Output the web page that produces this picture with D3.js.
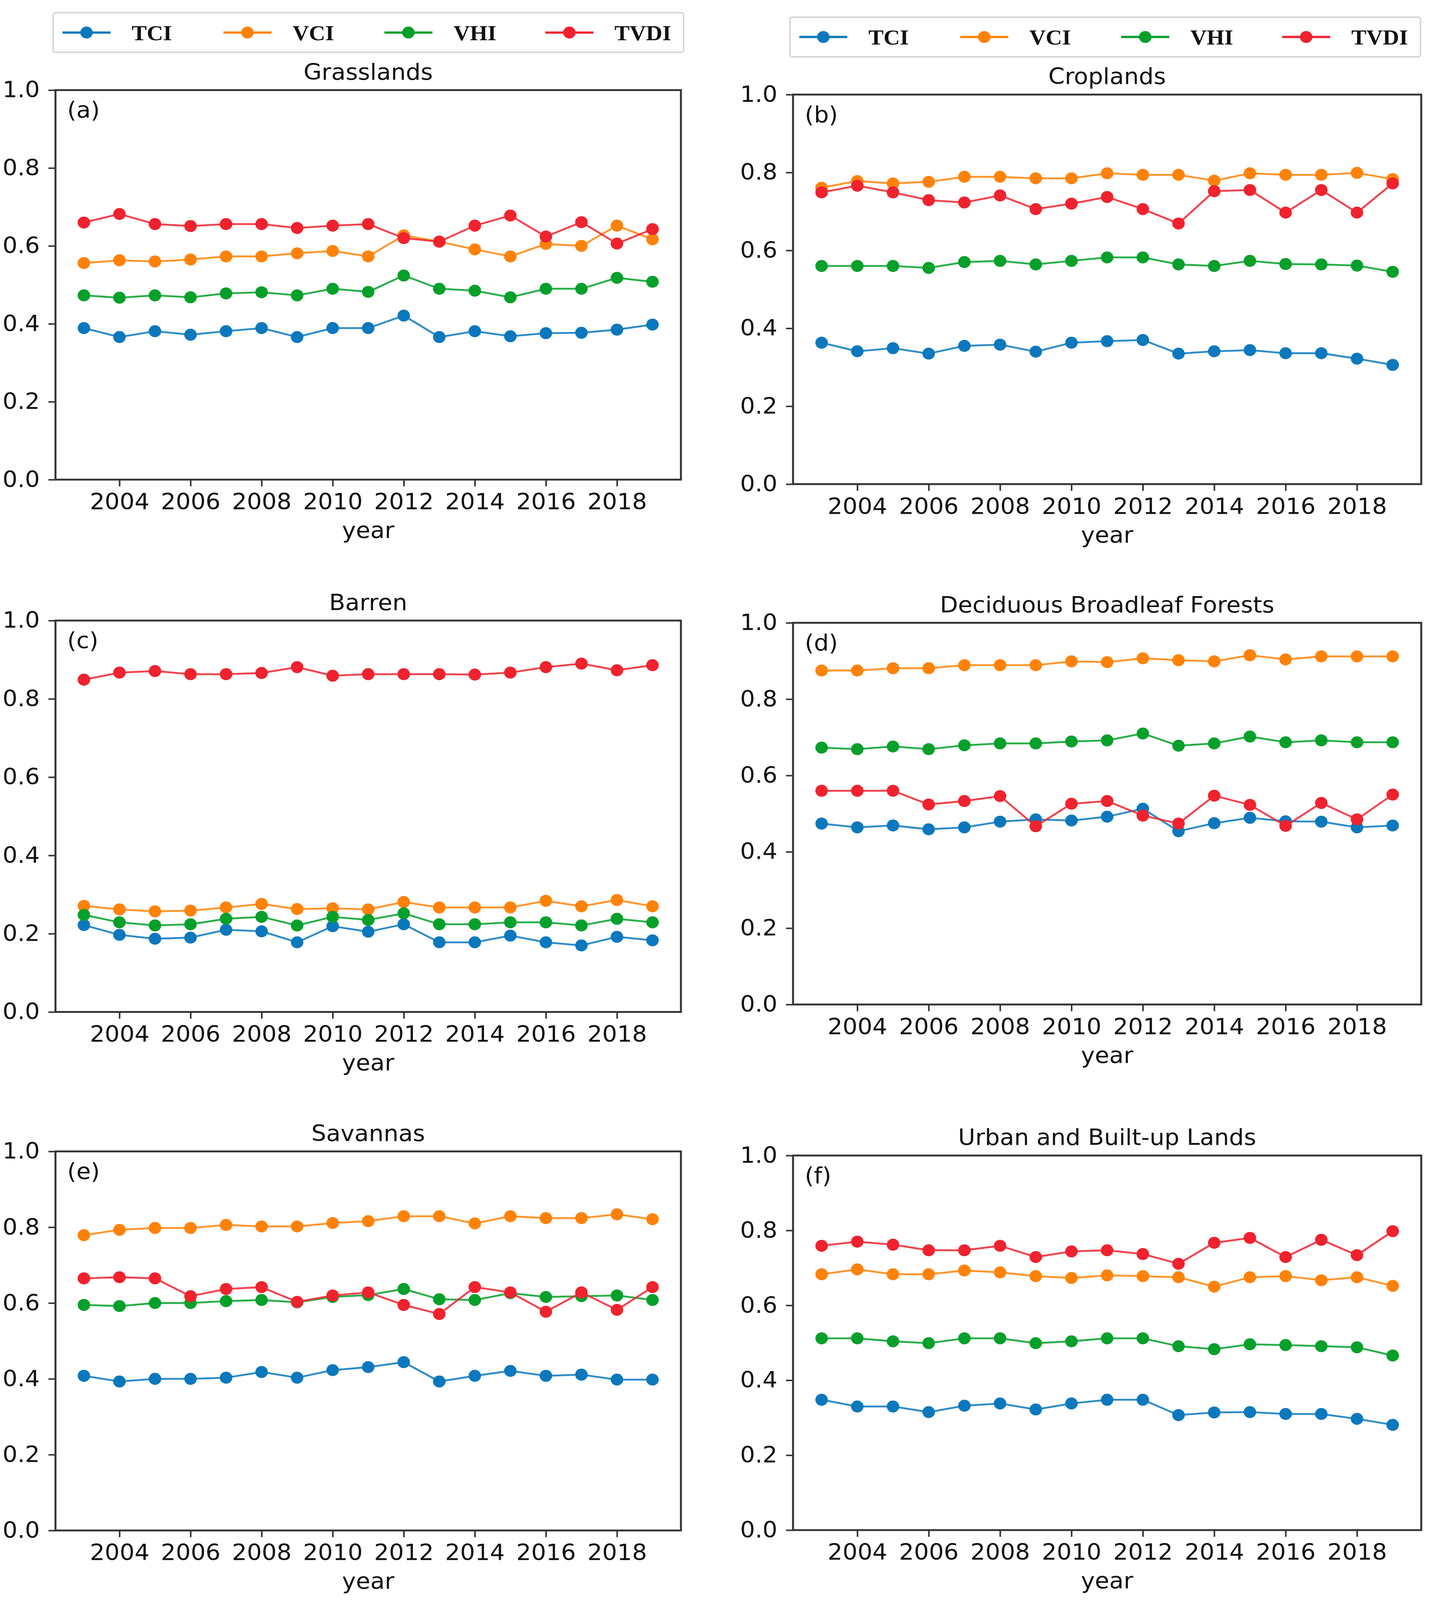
<!DOCTYPE html>
<html>
<head>
<meta charset="utf-8">
<script src="https://cdn.jsdelivr.net/npm/d3@7"></script>
<style>
  html, body { margin: 0; padding: 0; background: #fff; overflow: hidden; }
  #chart { display: block; width: 100vw; height: 100vh; }
  text { font-family: "DejaVu Sans", sans-serif; }
</style>
</head>
<body>
<svg id="chart" viewBox="0 0 3663 4280" preserveAspectRatio="none"></svg>
<script>
const years = [2003, 2004, 2005, 2006, 2007, 2008, 2009, 2010, 2011, 2012, 2013, 2014, 2015, 2016, 2017, 2018, 2019];
const xTicks = [2004, 2006, 2008, 2010, 2012, 2014, 2016, 2018];
const yTicks = [0, 0.2, 0.4, 0.6, 0.8, 1.0];
const seriesNames = ['TCI', 'VCI', 'VHI', 'TVDI'];
const seriesColors = ['#0b78bd', '#ff8208', '#05a02a', '#f0222e'];

// (a) Grasslands
const grassTCI  = [0.389, 0.366, 0.381, 0.372, 0.381, 0.389, 0.366, 0.389, 0.389, 0.421, 0.366, 0.381, 0.368, 0.376, 0.377, 0.385, 0.398];
const grassVCI  = [0.556, 0.563, 0.560, 0.565, 0.573, 0.573, 0.581, 0.587, 0.573, 0.627, 0.611, 0.591, 0.573, 0.605, 0.600, 0.652, 0.617];
const grassVHI  = [0.473, 0.467, 0.473, 0.468, 0.478, 0.481, 0.473, 0.490, 0.482, 0.524, 0.490, 0.485, 0.468, 0.490, 0.490, 0.518, 0.508];
const grassTVDI = [0.660, 0.682, 0.656, 0.651, 0.656, 0.656, 0.646, 0.652, 0.656, 0.620, 0.611, 0.652, 0.678, 0.624, 0.661, 0.606, 0.643];

// (b) Croplands
const cropTCI  = [0.363, 0.341, 0.349, 0.335, 0.355, 0.358, 0.340, 0.363, 0.367, 0.370, 0.335, 0.341, 0.344, 0.336, 0.336, 0.322, 0.306];
const cropVCI  = [0.761, 0.778, 0.772, 0.776, 0.789, 0.789, 0.785, 0.785, 0.798, 0.794, 0.794, 0.779, 0.798, 0.794, 0.794, 0.799, 0.783];
const cropVHI  = [0.560, 0.560, 0.560, 0.555, 0.570, 0.573, 0.564, 0.573, 0.582, 0.582, 0.564, 0.560, 0.573, 0.565, 0.564, 0.561, 0.545];
const cropTVDI = [0.749, 0.766, 0.749, 0.729, 0.723, 0.741, 0.706, 0.720, 0.737, 0.706, 0.669, 0.752, 0.755, 0.697, 0.755, 0.697, 0.772];

// (c) Barren
const barrenTCI  = [0.222, 0.197, 0.187, 0.190, 0.210, 0.206, 0.178, 0.219, 0.205, 0.224, 0.178, 0.178, 0.195, 0.178, 0.170, 0.192, 0.183];
const barrenVCI  = [0.271, 0.262, 0.257, 0.259, 0.267, 0.276, 0.263, 0.265, 0.262, 0.281, 0.267, 0.267, 0.267, 0.284, 0.270, 0.286, 0.270];
const barrenVHI  = [0.248, 0.229, 0.221, 0.224, 0.238, 0.243, 0.221, 0.243, 0.235, 0.252, 0.224, 0.224, 0.229, 0.229, 0.221, 0.238, 0.229];
const barrenTVDI = [0.849, 0.867, 0.871, 0.863, 0.863, 0.866, 0.881, 0.859, 0.863, 0.863, 0.863, 0.862, 0.867, 0.881, 0.890, 0.873, 0.886];

// (d) Deciduous Broadleaf Forests
const dbfTCI  = [0.474, 0.464, 0.469, 0.459, 0.464, 0.479, 0.485, 0.482, 0.492, 0.513, 0.454, 0.475, 0.489, 0.480, 0.479, 0.464, 0.469];
const dbfVCI  = [0.875, 0.875, 0.881, 0.881, 0.889, 0.889, 0.889, 0.899, 0.897, 0.907, 0.902, 0.899, 0.915, 0.904, 0.912, 0.912, 0.912];
const dbfVHI  = [0.673, 0.669, 0.676, 0.669, 0.679, 0.684, 0.684, 0.689, 0.692, 0.710, 0.678, 0.684, 0.702, 0.687, 0.692, 0.687, 0.687];
const dbfTVDI = [0.560, 0.560, 0.560, 0.524, 0.533, 0.546, 0.467, 0.526, 0.533, 0.495, 0.474, 0.547, 0.523, 0.468, 0.528, 0.485, 0.550];

// (e) Savannas
const savTCI  = [0.408, 0.393, 0.400, 0.400, 0.403, 0.418, 0.403, 0.423, 0.431, 0.444, 0.393, 0.408, 0.421, 0.408, 0.411, 0.398, 0.398];
const savVCI  = [0.779, 0.793, 0.798, 0.798, 0.806, 0.802, 0.802, 0.811, 0.816, 0.829, 0.829, 0.810, 0.829, 0.824, 0.824, 0.834, 0.821];
const savVHI  = [0.595, 0.592, 0.600, 0.600, 0.605, 0.608, 0.602, 0.616, 0.621, 0.637, 0.610, 0.608, 0.626, 0.616, 0.618, 0.620, 0.608];
const savTVDI = [0.665, 0.668, 0.665, 0.618, 0.637, 0.642, 0.603, 0.620, 0.628, 0.595, 0.571, 0.642, 0.628, 0.577, 0.628, 0.582, 0.642];

// (f) Urban and Built-up Lands
const urbanTCI  = [0.348, 0.330, 0.330, 0.315, 0.332, 0.338, 0.322, 0.338, 0.348, 0.348, 0.307, 0.314, 0.315, 0.310, 0.310, 0.297, 0.281];
const urbanVCI  = [0.683, 0.696, 0.683, 0.683, 0.693, 0.688, 0.678, 0.673, 0.680, 0.678, 0.675, 0.650, 0.675, 0.678, 0.667, 0.675, 0.652];
const urbanVHI  = [0.512, 0.512, 0.504, 0.499, 0.512, 0.512, 0.499, 0.504, 0.512, 0.512, 0.491, 0.483, 0.496, 0.494, 0.491, 0.488, 0.466];
const urbanTVDI = [0.759, 0.770, 0.762, 0.747, 0.747, 0.759, 0.729, 0.744, 0.747, 0.737, 0.711, 0.767, 0.780, 0.729, 0.775, 0.734, 0.798];

const panels = [
  { title: 'Grasslands', tag: '(a)', box: [142, 1743, 241, 1283], series: [grassTCI, grassVCI, grassVHI, grassTVDI] },
  { title: 'Croplands', tag: '(b)', box: [2030, 3638, 253, 1295], series: [cropTCI, cropVCI, cropVHI, cropTVDI] },
  { title: 'Barren', tag: '(c)', box: [142, 1743, 1660, 2707], series: [barrenTCI, barrenVCI, barrenVHI, barrenTVDI] },
  { title: 'Deciduous Broadleaf Forests', tag: '(d)', box: [2030, 3638, 1666, 2687], series: [dbfTCI, dbfVCI, dbfVHI, dbfTVDI] },
  { title: 'Savannas', tag: '(e)', box: [142, 1743, 3080, 4094], series: [savTCI, savVCI, savVHI, savTVDI] },
  { title: 'Urban and Built-up Lands', tag: '(f)', box: [2030, 3638, 3091, 4093], series: [urbanTCI, urbanVCI, urbanVHI, urbanTVDI] }
];

const legends = [
  { x: 136, y: 34, w: 1614, h: 106 },
  { x: 2022, y: 46, w: 1614, h: 106 }
];

const svg = d3.select('#chart');
const FONT = 60;

function drawPanel(p) {
  const [left, right, top, bottom] = p.box;
  const g = svg.append('g');

  const x = d3.scaleLinear().domain([2002.2, 2019.8]).range([left, right]);
  const y = d3.scaleLinear().domain([0, 1]).range([bottom, top]);

  const xAxis = g.append('g')
    .attr('transform', `translate(0,${bottom})`)
    .call(d3.axisBottom(x).tickValues(xTicks).tickFormat(d3.format('d')).tickSize(18).tickPadding(19));
  const yAxis = g.append('g')
    .attr('transform', `translate(${left},0)`)
    .call(d3.axisLeft(y).tickValues(yTicks).tickFormat(d3.format('.1f')).tickSize(18).tickPadding(22));

  [xAxis, yAxis].forEach(a => {
    a.select('.domain').remove();
    a.selectAll('line').attr('stroke', '#333').attr('stroke-width', 4);
    a.selectAll('text')
      .attr('fill', '#111')
      .style('font-family', '"DejaVu Sans", sans-serif')
      .style('font-size', FONT + 'px');
  });

  // series: line then markers, TVDI last (on top)
  const line = d3.line().x((d, i) => x(years[i])).y(d => y(d));
  p.series.forEach((vals, si) => {
    g.append('path')
      .datum(vals)
      .attr('d', line)
      .attr('fill', 'none')
      .attr('stroke', seriesColors[si])
      .attr('stroke-width', 5)
      .attr('stroke-opacity', 0.85);
    g.selectAll(null)
      .data(vals)
      .enter()
      .append('circle')
      .attr('cx', (d, i) => x(years[i]))
      .attr('cy', d => y(d))
      .attr('r', 16)
      .attr('fill', seriesColors[si]);
  });

  // frame
  g.append('rect')
    .attr('x', left).attr('y', top)
    .attr('width', right - left).attr('height', bottom - top)
    .attr('fill', 'none')
    .attr('stroke', '#333')
    .attr('stroke-width', 5);

  g.append('text')
    .attr('x', (left + right) / 2).attr('y', top - 28)
    .attr('text-anchor', 'middle')
    .attr('fill', '#111')
    .style('font-size', FONT + 'px')
    .text(p.title);

  g.append('text')
    .attr('x', left + 30).attr('y', top + 74)
    .attr('fill', '#111')
    .style('font-size', FONT + 'px')
    .text(p.tag);

  g.append('text')
    .attr('x', (left + right) / 2).attr('y', bottom + 156)
    .attr('text-anchor', 'middle')
    .attr('fill', '#111')
    .style('font-size', FONT + 'px')
    .text('year');
}

function drawLegend(l) {
  const g = svg.append('g');
  g.append('rect')
    .attr('x', l.x).attr('y', l.y)
    .attr('width', l.w).attr('height', l.h)
    .attr('rx', 6)
    .attr('fill', '#fff')
    .attr('stroke', '#d6d6d6')
    .attr('stroke-width', 4);

  const cy = l.y + l.h / 2;
  seriesNames.forEach((name, i) => {
    const sx = l.x + 24 + i * 412;
    g.append('line')
      .attr('x1', sx).attr('x2', sx + 123)
      .attr('y1', cy).attr('y2', cy)
      .attr('stroke', seriesColors[i])
      .attr('stroke-width', 6);
    g.append('circle')
      .attr('cx', sx + 61.5).attr('cy', cy)
      .attr('r', 16)
      .attr('fill', seriesColors[i]);
    g.append('text')
      .attr('x', sx + 177).attr('y', cy)
      .attr('dy', '0.35em')
      .attr('fill', '#111')
      .style('font-family', '"Liberation Serif", "DejaVu Serif", serif')
      .style('font-weight', 'bold')
      .style('font-size', '58px')
      .text(name);
  });
}

panels.forEach(drawPanel);
legends.forEach(drawLegend);
</script>
</body>
</html>
